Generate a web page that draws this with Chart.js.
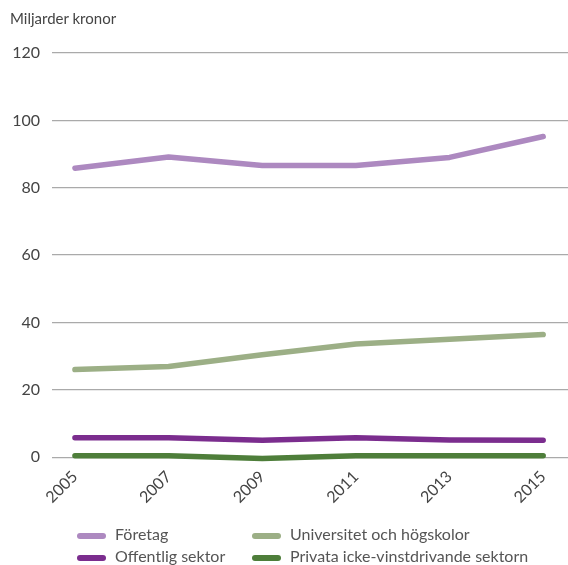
<!DOCTYPE html>
<html>
<head>
<meta charset="utf-8">
<script src="https://cdn.jsdelivr.net/npm/chart.js@4"></script>
<style>
  body { margin: 0; background: #fff; font-family: Lato, sans-serif; }
  #wrap { position: relative; width: 568px; height: 565px; }
  #title { position: absolute; left: 10px; top: 9px; font-size: 15px; color: #444; }
  #legend { position: absolute; left: 77px; top: 524px; width: 480px; font-size: 16px; color: #555; }
  .item { position: absolute; white-space: nowrap; }
  .item span.sw { display: inline-block; width: 29px; height: 6px; border-radius: 3px; vertical-align: middle; margin-right: 9px; }
</style>
</head>
<body>
<div id="wrap">
  <canvas id="chart" width="568" height="565"></canvas>
  <div id="title">Miljarder kronor</div>
  <div id="legend"></div>
</div>
<script>
const years = [2005, 2007, 2009, 2011, 2013, 2015];
const foretag = [85.8, 89.1, 86.6, 86.6, 89.0, 95.2];
const universitet = [26.0, 26.9, 30.4, 33.6, 35.0, 36.4];
const offentlig = [5.8, 5.8, 5.0, 5.8, 5.1, 5.0];
const privata = [0.4, 0.4, -0.4, 0.4, 0.4, 0.4];
const yTicks = [0, 20, 40, 60, 80, 100, 120];

const seriesNames = ['Företag', 'Universitet och högskolor', 'Offentlig sektor', 'Privata icke-vinstdrivande sektorn'];
const seriesColors = ['#ad89c0', '#9caf86', '#7b2d8e', '#4e7e3a'];
const seriesData = [foretag, universitet, offentlig, privata];

const pts = arr => arr.map((v, i) => ({ x: years[i], y: v }));

new Chart(document.getElementById('chart'), {
  type: 'line',
  data: {
    datasets: seriesData.map((d, i) => ({
      label: seriesNames[i],
      data: pts(d),
      borderColor: seriesColors[i],
      backgroundColor: seriesColors[i],
      borderWidth: 5.5,
      borderCapStyle: 'round',
      borderJoinStyle: 'round',
      pointRadius: 0,
      tension: 0,
      clip: false
    }))
  },
  options: {
    responsive: false,
    animation: false,
    layout: { padding: { top: 53, right: 0, bottom: 56, left: 0 } },
    plugins: {
      legend: { display: false },
      tooltip: { enabled: false }
    },
    scales: {
      x: {
        type: 'linear',
        min: 2004.51,
        max: 2015.53,
        afterBuildTicks: axis => { axis.ticks = years.map(v => ({ value: v })); },
        grid: { display: false },
        border: { display: false },
        ticks: {
          minRotation: 45,
          maxRotation: 45,
          color: '#444',
          font: { family: 'Lato', size: 16 },
          padding: 2,
          callback: v => String(v)
        }
      },
      y: {
        min: 0,
        max: 120,
        afterBuildTicks: axis => { axis.ticks = yTicks.map(v => ({ value: v })); },
        afterFit: axis => { axis.width = 52; },
        grid: { color: '#aaaaaa', lineWidth: 1.2, drawTicks: false },
        border: { display: false },
        ticks: {
          color: '#444',
          font: { family: 'Lato', size: 16 },
          padding: 12
        }
      }
    }
  }
});

const legend = document.getElementById('legend');
const legendPos = [[0, 0], [175, 0], [0, 22], [175, 22]];
seriesNames.forEach((name, i) => {
  const el = document.createElement('div');
  el.className = 'item';
  el.style.left = legendPos[i][0] + 'px';
  el.style.top = legendPos[i][1] + 'px';
  el.innerHTML = '<span class="sw" style="background:' + seriesColors[i] + '"></span>' + name;
  legend.appendChild(el);
});
</script>
</body>
</html>
